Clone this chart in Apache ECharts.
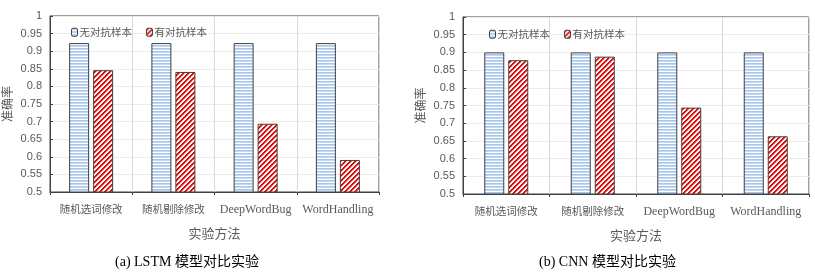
<!DOCTYPE html>
<html>
<head>
<meta charset="utf-8">
<script src="https://cdn.jsdelivr.net/npm/echarts@6/dist/echarts.min.js"></script>
<style>
html,body{margin:0;padding:0;background:#fff;}
#c{width:815px;height:275px;}
</style>
</head>
<body>
<div id="c"></div>
<script>
var categories = ['随机选词修改', '随机剔除修改', 'DeepWordBug', 'WordHandling'];
var seriesNames = ['无对抗样本', '有对抗样本'];
var lstmClean = [0.923, 0.923, 0.923, 0.923];
var lstmAdv = [0.846, 0.841, 0.694, 0.591];
var cnnClean = [0.9, 0.9, 0.9, 0.9];
var cnnAdv = [0.878, 0.888, 0.744, 0.663];
var captions = ['(a) LSTM 模型对比实验', '(b) CNN 模型对比实验'];
var xName = '实验方法';
var yName = '准确率';

function hPattern() {
  var c = document.createElement('canvas');
  c.width = 4; c.height = 3;
  var g = c.getContext('2d');
  g.fillStyle = '#ffffff'; g.fillRect(0, 0, 4, 3);
  g.fillStyle = '#a6c6ec'; g.fillRect(0, 0, 4, 1);
  g.fillStyle = '#c4d9f3'; g.fillRect(0, 1, 4, 1);
  return c;
}
function dPattern() {
  var n = 5;
  var c = document.createElement('canvas');
  c.width = n; c.height = n;
  var g = c.getContext('2d');
  for (var x = 0; x < n; x++) {
    for (var y = 0; y < n; y++) {
      var k = (x + y) % n;
      g.fillStyle = k < 2 ? '#dd0a0a' : (k === 2 ? '#ef8a8a' : '#ffffff');
      g.fillRect(x, y, 1, 1);
    }
  }
  return c;
}
var blueFill = { image: hPattern(), repeat: 'repeat' };
var redFill = { image: dPattern(), repeat: 'repeat' };

var labelColor = '#595959';

function xAxis(gi) {
  return {
    type: 'category', gridIndex: gi, data: categories,
    name: xName, nameLocation: 'middle', nameGap: 35,
    nameTextStyle: { color: labelColor, fontSize: 13, fontFamily: 'Noto Sans CJK SC' },
    axisLine: { lineStyle: { color: '#404040', width: 1 } },
    axisTick: { show: true, length: 3, lineStyle: { color: '#404040' } },
    axisLabel: {
      color: labelColor, margin: 12, interval: 0,
      formatter: function (v) { return /^[A-Za-z]/.test(v) ? '{l|' + v + '}' : '{c|' + v + '}'; },
      rich: {
        l: { fontSize: 12, fontFamily: 'Liberation Serif', color: labelColor },
        c: { fontSize: 10.5, fontFamily: 'Noto Sans CJK SC', color: labelColor }
      }
    },
    splitLine: { show: true, lineStyle: { color: '#d9d9d9', width: 1 } }
  };
}
function yAxis(gi) {
  return {
    type: 'value', gridIndex: gi, min: 0.5, max: 1, interval: 0.05,
    name: yName, nameLocation: 'middle', nameGap: 37, nameRotate: 90,
    nameTextStyle: { color: labelColor, fontSize: 12, fontFamily: 'Noto Sans CJK SC' },
    axisLine: { show: true, lineStyle: { color: '#404040', width: 1 } },
    axisTick: { show: true, inside: true, length: 3, lineStyle: { color: '#404040' } },
    axisLabel: { color: labelColor, fontSize: 11, margin: 8, fontFamily: "'Liberation Sans Narrow','Liberation Sans'" },
    splitLine: { show: true, lineStyle: { color: '#ececec', width: 1 } }
  };
}
function bar(name, data, gi, fill) {
  return {
    type: 'bar', name: name, xAxisIndex: gi, yAxisIndex: gi, data: data,
    barWidth: 20, barGap: '20%',
    itemStyle: { color: fill, borderColor: '#404040', borderWidth: 1 },
    emphasis: { disabled: true }, animation: false
  };
}
function legend(left, top) {
  return {
    left: left, top: top, itemWidth: 6, itemHeight: 8, itemGap: 14,
    data: seriesNames, selectedMode: false,
    textStyle: { color: labelColor, fontSize: 10.5, fontFamily: 'Noto Sans CJK SC', padding: [0, 0, 0, -3] },
    itemStyle: { borderColor: '#404040', borderWidth: 1 }
  };
}

var chart = echarts.init(document.getElementById('c'), null, { renderer: 'canvas' });
chart.setOption({
  animation: false,
  backgroundColor: '#ffffff',
  grid: [
    { left: 47, top: 16, width: 332, height: 176, show: true, borderColor: '#404040', borderWidth: 1, containLabel: false },
    { left: 463, top: 17, width: 346, height: 177, show: true, borderColor: '#404040', borderWidth: 1, containLabel: false }
  ],
  legend: [legend(66, 22), legend(484, 24)],
  xAxis: [xAxis(0), xAxis(1)],
  yAxis: [yAxis(0), yAxis(1)],
  series: [
    bar(seriesNames[0], lstmClean, 0, blueFill),
    bar(seriesNames[1], lstmAdv, 0, redFill),
    bar(seriesNames[0], cnnClean, 1, blueFill),
    bar(seriesNames[1], cnnAdv, 1, redFill)
  ],
  graphic: [
    { type: 'text', left: 190 - 75, top: 255, style: { text: captions[0], fill: '#000', font: "14px 'Liberation Serif','Noto Sans CJK SC'" } },
    { type: 'text', left: 612 - 73, top: 255, style: { text: captions[1], fill: '#000', font: "14px 'Liberation Serif','Noto Sans CJK SC'" } }
  ]
});
</script>
</body>
</html>
